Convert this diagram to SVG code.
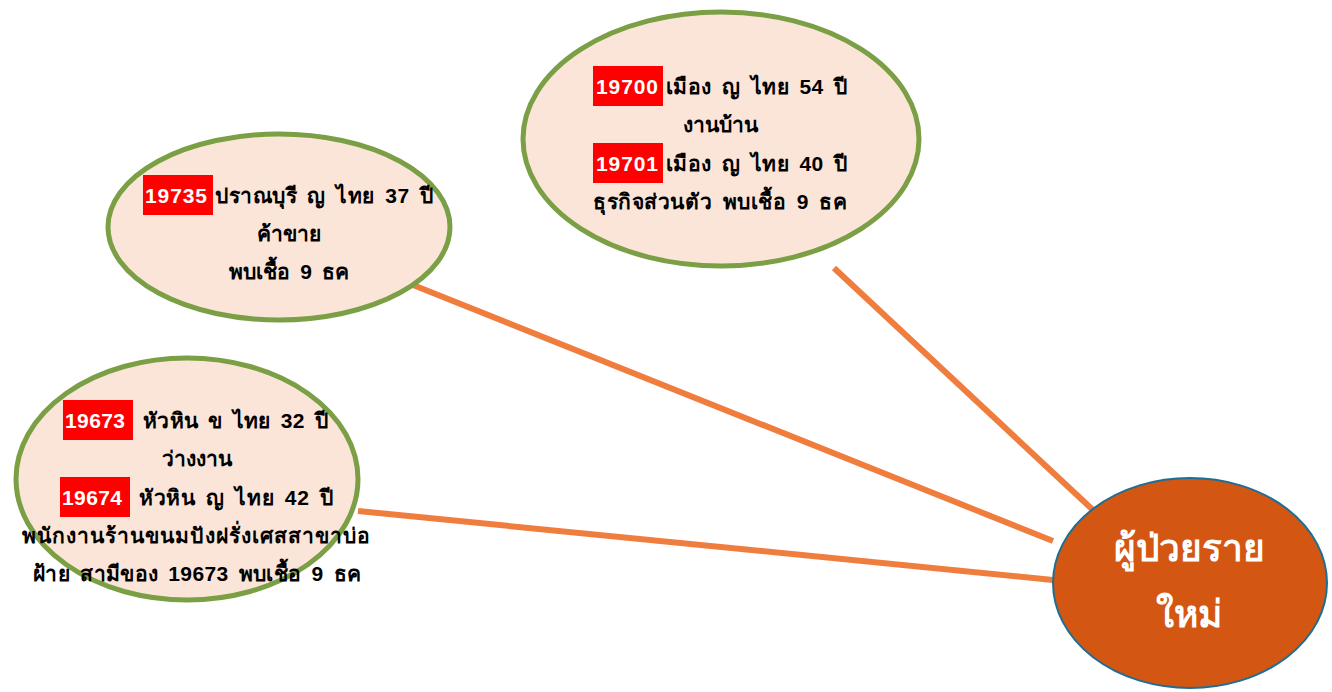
<svg xmlns="http://www.w3.org/2000/svg" width="1332" height="692" viewBox="0 0 1332 692">
<style>
.bubble{fill:#FBE5D9;stroke:#7B9F45;stroke-width:5}
.center{fill:#D35612;stroke:#1C6E94;stroke-width:2}
.conn{stroke:#EF7D3E;stroke-width:6;fill:none}
.t{font-family:"Liberation Sans","Noto Sans",sans-serif;font-weight:bold;font-size:21px;fill:#000;word-spacing:4px}
.id{fill:#FF0000}
.idt{font-family:"Liberation Sans",sans-serif;font-weight:bold;font-size:21px;fill:#fff}
.big{font-family:"Liberation Sans","Noto Sans",sans-serif;font-weight:bold;font-size:37px;fill:#fff;text-anchor:middle}
</style>
<rect width="1332" height="692" fill="#fff"/>
<g id="connectors">
<line class="conn" x1="834" y1="268" x2="1093" y2="510"/>
<line class="conn" x1="413" y1="285" x2="1053" y2="541"/>
<line class="conn" x1="358" y1="511" x2="1053" y2="580"/>
</g>
<g id="node-top">
<ellipse class="bubble" cx="721" cy="139" rx="198" ry="127"/>
<rect class="id" x="593" y="66" width="70" height="40"/>
<text class="idt" x="596" y="94" textLength="62">19700</text>
<text class="t" x="666" y="94" textLength="181">เมือง ญ ไทย 54 ปี</text>
<text class="t" x="720" y="132" text-anchor="middle">งานบ้าน</text>
<rect class="id" x="593" y="143" width="70" height="40"/>
<text class="idt" x="596" y="171" textLength="62">19701</text>
<text class="t" x="666" y="171" textLength="181">เมือง ญ ไทย 40 ปี</text>
<text class="t" x="593" y="209" textLength="254">ธุรกิจส่วนตัว พบเชื้อ 9 ธค</text>
</g>
<g id="node-left-top">
<ellipse class="bubble" cx="279" cy="227" rx="171" ry="93"/>
<rect class="id" x="143" y="175" width="70" height="40"/>
<text class="idt" x="145" y="203" textLength="62">19735</text>
<text class="t" x="215" y="203" textLength="218">ปราณบุรี ญ ไทย 37 ปี</text>
<text class="t" x="289" y="241" text-anchor="middle">ค้าขาย</text>
<text class="t" x="289" y="279" text-anchor="middle">พบเชื้อ 9 ธค</text>
</g>
<g id="node-left-bottom">
<ellipse class="bubble" cx="187" cy="479" rx="171" ry="121"/>
<rect class="id" x="63" y="400" width="70" height="40"/>
<text class="idt" x="65" y="428" textLength="60">19673</text>
<text class="t" x="143" y="428" textLength="185">หัวหิน ข ไทย 32 ปี</text>
<text class="t" x="197" y="466" text-anchor="middle">ว่างงาน</text>
<rect class="id" x="60" y="477" width="70" height="40"/>
<text class="idt" x="62" y="505" textLength="60">19674</text>
<text class="t" x="139" y="505" textLength="194">หัวหิน ญ ไทย 42 ปี</text>
<text class="t" x="22" y="543" textLength="348">พนักงานร้านขนมปังฝรั่งเศสสาขาบ่อ</text>
<text class="t" x="33" y="581" textLength="328">ฝ้าย สามีของ 19673 พบเชื้อ 9 ธค</text>
</g>
<g id="node-center">
<ellipse class="center" cx="1190" cy="583" rx="137" ry="105"/>
<text class="big" x="1189" y="561">ผู้ป่วยราย</text>
<text class="big" x="1189" y="627">ใหม่</text>
</g>
</svg>
